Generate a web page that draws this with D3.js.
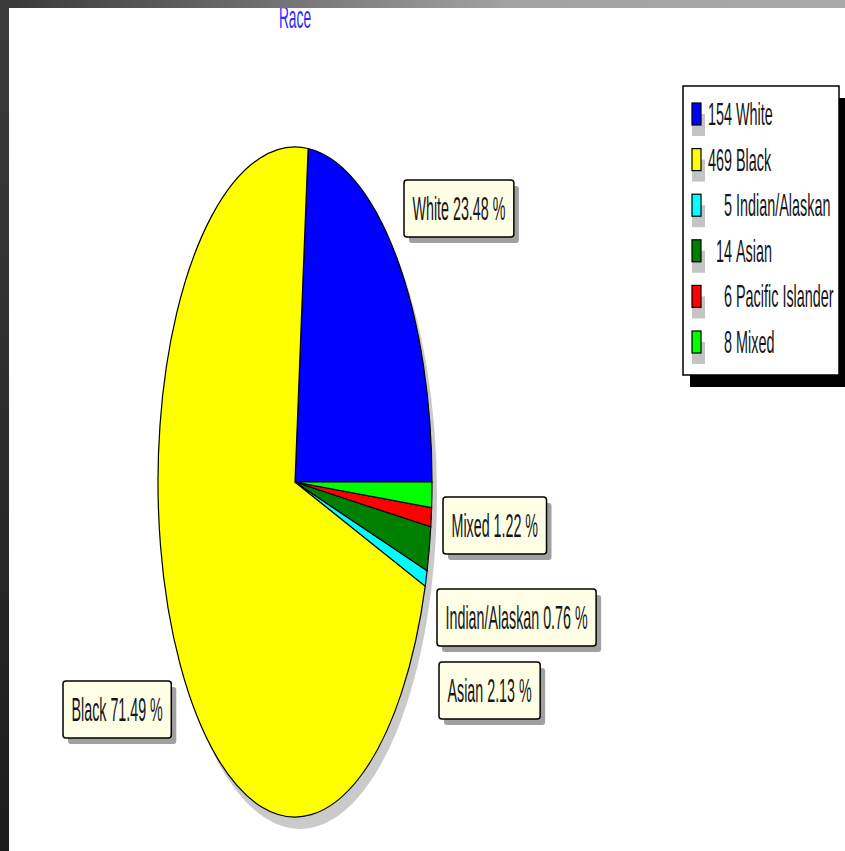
<!DOCTYPE html>
<html>
<head>
<meta charset="utf-8">
<script src="https://cdn.jsdelivr.net/npm/d3@7"></script>
<style>
  body { margin: 0; background: #fff; }
  svg { display: block; }
</style>
</head>
<body>
<div id="chart"></div>
<script>
const CATEGORIES = ["White", "Black", "Indian/Alaskan", "Asian", "Pacific Islander", "Mixed"];
const COUNTS = [154, 469, 5, 14, 6, 8];
const COLORS = ["#0000ff", "#ffff00", "#00ffff", "#008000", "#ff0000", "#00ff00"];
const TITLE = "Race";

// label box placement (top-left corner), Pacific Islander has no label
var labelPos = {
  "White": [404, 180],
  "Black": [63, 681],
  "Indian/Alaskan": [437, 589],
  "Asian": [439, 662],
  "Mixed": [443, 497]
};

var width = 845, height = 851;
var cx = 295, cy = 482, rx = 137, ry = 335;
var squeeze = 0.42; // fonts look horizontally squashed

var total = d3.sum(COUNTS);
var data = CATEGORIES.map(function (c, i) {
  return { name: c, count: COUNTS[i], color: COLORS[i], pct: (COUNTS[i] / total * 100).toFixed(2) };
});

var svg = d3.select("#chart").append("svg")
  .attr("width", width)
  .attr("height", height);

var defs = svg.append("defs");
var gTop = defs.append("linearGradient").attr("id", "gTop").attr("x1", 0).attr("x2", 1).attr("y1", 0).attr("y2", 0);
gTop.append("stop").attr("offset", 0).attr("stop-color", "#383838");
gTop.append("stop").attr("offset", 0.6).attr("stop-color", "#a2a2a2");
gTop.append("stop").attr("offset", 1).attr("stop-color", "#a8a8a8");
var gLeft = defs.append("linearGradient").attr("id", "gLeft").attr("x1", 0).attr("x2", 0).attr("y1", 0).attr("y2", 1);
gLeft.append("stop").attr("offset", 0).attr("stop-color", "#3c3c3c");
gLeft.append("stop").attr("offset", 1).attr("stop-color", "#1c1c1c");

// title (top gets clipped by the frame)
svg.append("g")
  .attr("transform", "translate(" + cx + ",28) scale(0.43,1)")
  .append("text")
  .attr("text-anchor", "middle")
  .style("font-family", "Liberation Sans, Arial, sans-serif")
  .style("font-size", "32px")
  .attr("fill", "#2a2aff")
  .text(TITLE);

// pie: angles laid out counterclockwise from 3 o'clock, then stretched into an ellipse
var pie = d3.pie().sort(null).value(function (d) { return d.count; })
  .startAngle(Math.PI / 2).endAngle(Math.PI / 2 - 2 * Math.PI);
var arc = d3.arc().innerRadius(0).outerRadius(rx);

svg.append("ellipse")
  .attr("cx", cx + 5).attr("cy", cy + 12)
  .attr("rx", rx).attr("ry", ry)
  .attr("fill", "#cacaca");

var pieG = svg.append("g")
  .attr("transform", "translate(" + cx + "," + cy + ") scale(1," + (ry / rx) + ")");

pieG.selectAll("path")
  .data(pie(data))
  .enter()
  .append("path")
  .attr("d", arc)
  .attr("fill", function (d) { return d.data.color; })
  .attr("stroke", "#000")
  .attr("stroke-width", 1.2)
  .attr("vector-effect", "non-scaling-stroke");

// labels
var labels = svg.selectAll("g.lbl")
  .data(data.filter(function (d) { return labelPos[d.name]; }))
  .enter()
  .append("g")
  .classed("lbl", true)
  .attr("transform", function (d) { return "translate(" + labelPos[d.name][0] + "," + labelPos[d.name][1] + ")"; });

labels.each(function (d) {
  var g = d3.select(this);
  var shadow = g.append("rect");
  var box = g.append("rect");
  var t = g.append("g")
    .append("text")
    .style("font-family", "Liberation Sans, Arial, sans-serif")
    .style("font-size", "34px")
    .attr("fill", "#151520")
    .text(d.name + " " + d.pct + " %");
  var w = t.node().getComputedTextLength() * squeeze + 17;
  t.attr("transform", "translate(" + (w / 2) + ",40) scale(" + squeeze + ",1)")
    .attr("text-anchor", "middle");
  shadow.attr("x", 5).attr("y", 6).attr("width", w).attr("height", 57)
    .attr("rx", 3).attr("fill", "#a0a0a0");
  box.attr("width", w).attr("height", 57)
    .attr("rx", 3).attr("fill", "#ffffe6")
    .attr("stroke", "#000").attr("stroke-width", 1.5);
});

// legend
var legX = 683, legY = 86, legW = 156, legH = 289, rowH = 45.6;
var legSqueeze = 0.45;
svg.append("rect")
  .attr("x", legX + 7).attr("y", legY + 12)
  .attr("width", legW).attr("height", legH)
  .attr("fill", "#000");
svg.append("rect")
  .attr("x", legX).attr("y", legY)
  .attr("width", legW).attr("height", legH)
  .attr("fill", "#fff").attr("stroke", "#000").attr("stroke-width", 1.5);

var rows = svg.selectAll("g.leg")
  .data(data)
  .enter()
  .append("g")
  .classed("leg", true)
  .attr("transform", function (d, i) { return "translate(" + (legX + 9) + "," + (legY + 28 + i * rowH) + ")"; });

rows.append("rect")
  .attr("x", 0).attr("y", 0)
  .attr("width", 13).attr("height", 22)
  .attr("fill", "#c4c4c4");
rows.append("rect")
  .attr("x", 0).attr("y", -11)
  .attr("width", 9).attr("height", 22)
  .attr("fill", function (d) { return d.color; })
  .attr("stroke", "#000").attr("stroke-width", 1.2);

rows.append("g")
  .attr("transform", "translate(40,11) scale(" + legSqueeze + ",1)")
  .append("text")
  .attr("text-anchor", "end")
  .style("font-family", "Liberation Sans, Arial, sans-serif")
  .style("font-size", "32px")
  .attr("fill", "#151520")
  .text(function (d) { return d.count; });
rows.append("g")
  .attr("transform", "translate(44,11) scale(" + legSqueeze + ",1)")
  .append("text")
  .style("font-family", "Liberation Sans, Arial, sans-serif")
  .style("font-size", "32px")
  .attr("fill", "#151520")
  .text(function (d) { return d.name; });

// frame
svg.append("rect").attr("x", 0).attr("y", 0).attr("width", width).attr("height", 8).attr("fill", "url(#gTop)");
svg.append("rect").attr("x", 0).attr("y", 0).attr("width", 9).attr("height", height).attr("fill", "url(#gLeft)");
</script>
</body>
</html>
